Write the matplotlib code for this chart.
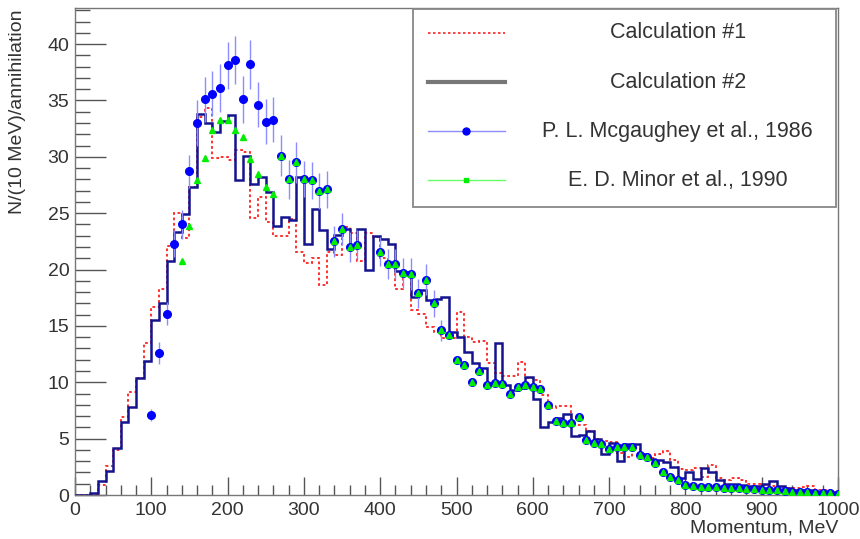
import numpy as np
import matplotlib.pyplot as plt
from matplotlib.patches import Rectangle
from matplotlib.ticker import MultipleLocator

plt.rcParams['font.family'] = ['Liberation Sans', 'DejaVu Sans']

# 10 MeV bins, 0..1000 MeV
edges = np.arange(0, 1001, 10)

calc1 = [0, 0, 0.1, 0.9, 2.6, 4.0, 6.9, 9.1, 10.4, 13.5,
         16.7, 18.3, 22.1, 25.0, 22.8, 27.3, 33.5, 34.3, 29.9, 30.0,
         29.7, 30.6, 30.4, 24.6, 26.4, 24.2, 23.0, 23.0, 24.5, 21.6,
         20.6, 21.0, 18.6, 21.6, 21.3, 23.8, 23.2, 20.8, 23.2, 22.9,
         21.0, 20.5, 18.3, 19.8, 16.4, 16.1, 14.9, 14.5, 13.9, 13.9,
         16.2, 14.0, 13.6, 13.7, 11.7, 10.8, 10.6, 10.6, 11.8, 10.4,
         10.2, 8.9, 7.7, 7.9, 7.9, 6.2, 6.2, 5.7, 5.0, 4.8,
         4.7, 3.7, 3.4, 4.2, 3.5, 3.3, 3.6, 3.9, 3.1, 2.3,
         2.2, 2.4, 1.6, 2.7, 1.5, 1.3, 1.5, 1.3, 1.0, 1.0,
         0.9, 0.8, 0.7, 0.6, 0.6, 0.7, 0.8, 0.4, 0.4, 0.3]

calc2 = [0, 0, 0.2, 1.24, 2.1, 4.2, 6.5, 7.8, 10.4, 11.9,
         15.5, 17.0, 20.8, 23.3, 24.9, 27.3, 33.8, 33.0, 32.2, 33.2,
         33.7, 27.9, 30.1, 27.6, 28.2, 26.9, 23.9, 24.7, 24.4, 28.2,
         22.3, 25.4, 23.5, 21.8, 23.1, 23.6, 22.2, 23.6, 20.0, 23.0,
         22.7, 22.3, 19.9, 19.8, 17.6, 18.2, 17.3, 17.4, 17.6, 14.5,
         14.0, 12.7, 11.7, 11.3, 9.9, 13.5, 9.8, 9.3, 9.5, 10.5,
         8.5, 6.0, 6.5, 6.8, 7.2, 5.2, 5.3, 5.7, 5.0, 3.6,
         4.6, 3.0, 4.5, 4.5, 3.6, 3.2, 3.1, 2.9, 2.5, 1.5,
         2.0, 1.4, 2.4, 2.0, 1.3, 1.0, 1.0, 0.9, 0.8, 0.8,
         1.0, 1.2, 0.8, 0.6, 0.4, 0.4, 0.4, 0.3, 0.3, 0.2]

# P. L. Mcgaughey et al., 1986
mcg_x = [100, 110, 120, 130, 140, 150, 160, 170, 180, 190,
         200, 210, 220, 230, 240, 250, 260, 270, 280, 290,
         300, 310, 320, 330, 340, 350, 360, 370, 400, 410,
         420, 430, 440, 450, 460, 470, 480, 490, 500, 510,
         520, 530, 540, 550, 560, 570, 580, 590, 600, 610,
         620, 630, 640, 650, 660, 670, 680, 690, 700, 710,
         720, 730, 740, 750, 760, 770, 780, 790, 800, 810,
         820, 830, 840, 850, 860, 870, 880, 890, 900, 910,
         920, 930, 940, 950, 960, 970, 980, 990, 1000]
mcg_y = [7.1, 12.6, 16.1, 22.3, 24.0, 28.7, 33.0, 35.1, 35.6, 36.1,
         38.1, 38.6, 35.1, 38.2, 34.6, 33.1, 33.3, 30.1, 28.0, 29.5,
         28.0, 27.9, 27.0, 27.1, 22.5, 23.6, 22.0, 22.2, 21.6, 20.5,
         20.5, 19.7, 19.6, 17.9, 19.1, 17.0, 14.6, 14.2, 12.0, 11.5,
         10.0, 11.0, 9.75, 9.96, 9.84, 9.0, 9.55, 9.75, 9.55, 9.4,
         8.0, 6.6, 6.4, 6.4, 6.9, 4.9, 4.6, 4.5, 4.05, 4.3,
         4.3, 4.3, 3.55, 3.4, 2.86, 2.07, 1.6, 1.33, 0.9, 0.8,
         0.75, 0.7, 0.7, 0.65, 0.6, 0.6, 0.5, 0.5, 0.45, 0.4,
         0.4, 0.35, 0.3, 0.3, 0.25, 0.2, 0.2, 0.15, 0.1]
mcg_err = [0.5, 1.0, 1.0, 1.2, 1.3, 1.5, 2.0, 2.0, 2.0, 2.1,
           2.1, 2.1, 2.1, 2.2, 2.0, 2.0, 2.0, 1.8, 1.7, 1.8,
           1.6, 1.6, 1.6, 1.6, 1.4, 1.4, 1.3, 1.3, 1.3, 1.3,
           1.3, 1.3, 1.4, 1.3, 1.4, 1.2, 0.9, 0, 0, 0,
           0, 0, 0, 0, 0, 0, 0, 0, 0, 0,
           0, 0, 0, 0, 0, 0, 0, 0, 0, 0,
           0, 0, 0, 0, 0, 0, 0, 0, 0, 0,
           0, 0, 0, 0, 0, 0, 0, 0, 0, 0,
           0, 0, 0, 0, 0, 0, 0, 0, 0]

# E. D. Minor et al., 1990
minor_x = [140, 150, 160, 170, 180, 190, 200, 210, 220, 230,
           240, 250, 260, 270, 280, 290, 300, 310, 320, 330,
           340, 350, 360, 370, 400, 410, 420, 430, 440, 450,
           460, 470, 480, 490, 500, 510, 520, 530, 540, 550,
           560, 570, 580, 590, 600, 610, 620, 630, 640, 650,
           660, 670, 680, 690, 700, 710, 720, 730, 740, 750,
           760, 770, 780, 790, 800, 810, 820, 830, 840, 850,
           860, 870, 880, 890, 900, 910, 920, 930, 940, 950,
           960, 970, 980, 990, 1000]
minor_y = [20.8, 23.9, 27.9, 29.9, 32.4, 33.3, 33.3, 32.4, 31.8, 29.8,
           28.5, 27.3, 26.7, 30.1, 28.0, 29.5, 28.0, 27.9, 27.0, 27.1,
           22.5, 23.6, 22.0, 22.2, 21.6, 20.5, 20.5, 19.7, 19.6, 17.9,
           19.1, 17.0, 14.6, 14.2, 12.0, 11.5, 10.0, 11.0, 9.75, 9.96,
           9.84, 9.0, 9.55, 9.75, 9.55, 9.4, 8.0, 6.6, 6.4, 6.4,
           6.9, 4.9, 4.6, 4.5, 4.05, 4.3, 4.3, 4.3, 3.55, 3.4,
           2.86, 2.07, 1.6, 1.33, 0.9, 0.8, 0.75, 0.7, 0.7, 0.65,
           0.6, 0.6, 0.5, 0.5, 0.45, 0.4, 0.4, 0.35, 0.3, 0.3,
           0.25, 0.2, 0.2, 0.15, 0.1]

RED = '#ff2020'
NAVY = '#14148f'
BLUE = '#0000ff'
LBLUE = '#8c8cff'
GREEN = '#00ee00'
LGREEN = '#66ff66'

fig = plt.figure(figsize=(8.6, 5.39), dpi=100)
ax = fig.add_axes([75 / 860, 1 - 495 / 539, 763 / 860, 487 / 539])

ax.stairs(calc1, edges, color=RED, lw=1.3, linestyle=(0, (1.5, 1.5)), zorder=2)
ax.stairs(calc2, edges, color=NAVY, lw=1.8, zorder=3)
ax.errorbar(mcg_x, mcg_y, yerr=mcg_err, fmt='o', color=BLUE, ms=5.5,
            ecolor=LBLUE, elinewidth=1.0, capsize=0, zorder=4)
ax.plot(minor_x, minor_y, '^', color=GREEN, ms=4.5, mec=GREEN, zorder=5)

ax.set_xlim(0, 1000)
ax.set_ylim(0, 43.2)
ax.xaxis.set_major_locator(MultipleLocator(100))
ax.xaxis.set_minor_locator(MultipleLocator(20))
ax.yaxis.set_major_locator(MultipleLocator(5))
ax.yaxis.set_minor_locator(MultipleLocator(1))
ax.tick_params(axis='both', which='both', direction='in', colors='#555555',
               labelcolor='#333333', labelsize=14, width=1)
ax.tick_params(axis='x', which='major', length=13, pad=5)
ax.tick_params(axis='x', which='minor', length=7)
ax.tick_params(axis='y', which='major', length=22, pad=4)
ax.tick_params(axis='y', which='minor', length=11)
for s in ax.spines.values():
    s.set_color('#777777')
    s.set_linewidth(1.0)

ax.text(1.0, -0.068, 'Momentum, MeV', transform=ax.transAxes, ha='right',
        va='center', fontsize=14, color='#333333')
ax.text(-0.076, 0.996, 'N/(10 MeV)/annihilation', transform=ax.transAxes,
        rotation=90, ha='center', va='top', fontsize=14, color='#333333')

# legend box drawn by hand so the labels can be centred
ax.add_patch(Rectangle((0.443, 0.5914), 0.5544, 0.4066, transform=ax.transAxes,
                       facecolor='white', edgecolor='#888888', lw=1.3,
                       zorder=10, clip_on=False))
lx0, lx1, lxm = 0.4626, 0.5636, 0.5131
tx = 0.790
rows = [0.9487, 0.848, 0.7474, 0.6468]
kw = dict(transform=ax.transAxes, zorder=11, clip_on=False)
ax.plot([lx0, lx1], [rows[0]] * 2, color=RED, lw=1.2, linestyle=(0, (1.5, 1.5)), **kw)
ax.plot([lx0, lx1], [rows[1]] * 2, color='#777777', lw=3.0, **kw)
ax.plot([lx0, lx1], [rows[2]] * 2, color=LBLUE, lw=1.0, **kw)
ax.plot([lxm], [rows[2]], 'o', color=BLUE, ms=5, **kw)
ax.plot([lx0, lx1], [rows[3]] * 2, color=LGREEN, lw=1.0, **kw)
ax.plot([lxm], [rows[3]], 's', color=GREEN, ms=3.5, **kw)
labels = ['Calculation #1', 'Calculation #2',
          'P. L. Mcgaughey et al., 1986', 'E. D. Minor et al., 1990']
for yy, lab in zip(rows, labels):
    ax.text(tx, yy, lab, transform=ax.transAxes, ha='center', va='center',
            fontsize=15.5, color='#333333', zorder=12)

fig.savefig('out.png', dpi=100)
